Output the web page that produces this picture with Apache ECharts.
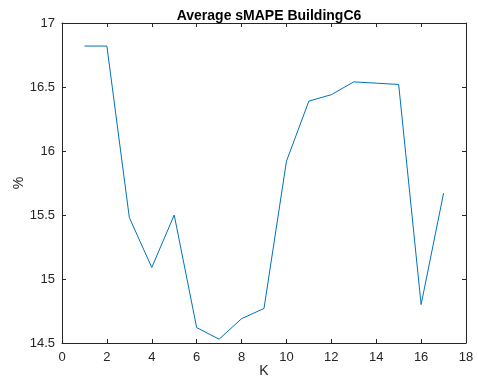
<!DOCTYPE html>
<html>
<head>
<meta charset="utf-8">
<script src="https://cdn.jsdelivr.net/npm/echarts@6/dist/echarts.min.js"></script>
<style>html,body{margin:0;padding:0;background:#fff}#c{width:478px;height:383px}</style>
</head>
<body>
<div id="c"></div>
<script>
var kValues = [1,2,3,4,5,6,7,8,9,10,11,12,13,14,15,16,17];
var smape = [16.82,16.82,15.48,15.09,15.50,14.62,14.53,14.69,14.77,15.92,16.39,16.44,16.54,16.53,16.52,14.80,15.67];
var xTicks = [0,2,4,6,8,10,12,14,16,18];
var yTicks = [14.5,15,15.5,16,16.5,17];

var font = 'Liberation Sans, Arial, Helvetica, sans-serif';
var axisCol = '#262626';
var chart = echarts.init(document.getElementById('c'), null, {renderer:'canvas'});
var pts = kValues.map(function(k,i){return [k, smape[i]];});
function fmtY(v){ return String(Math.round(v*10)/10); }
var baseX = {
  type:'value', min:xTicks[0], max:xTicks[xTicks.length-1], interval:2,
  axisLine:{show:true, onZero:false, lineStyle:{color:axisCol, width:1}},
  axisTick:{show:true, inside:true, length:4, lineStyle:{color:axisCol}},
  splitLine:{show:false}
};
var baseY = {
  type:'value', min:yTicks[0], max:yTicks[yTicks.length-1], interval:0.5,
  axisLine:{show:true, onZero:false, lineStyle:{color:axisCol, width:1}},
  axisTick:{show:true, inside:true, length:4, lineStyle:{color:axisCol}},
  splitLine:{show:false}
};
chart.setOption({
  animation:false,
  backgroundColor:'#fff',
  title:{text:'Average sMAPE BuildingC6', left:264, top:4, textAlign:'center',
    textStyle:{fontFamily:font, fontSize:14, fontWeight:'bold', color:'#000'}},
  grid:{left:62, right:12, top:23, bottom:40, containLabel:false, outerBoundsMode:'none'},
  xAxis:[
    Object.assign({}, baseX, {position:'bottom', name:'K', nameLocation:'middle', nameGap:21, nameMoveOverlap:false,
      nameTextStyle:{fontFamily:font, fontSize:14, color:axisCol},
      axisLabel:{show:true, fontFamily:font, fontSize:13, color:axisCol, margin:8}}),
    Object.assign({}, baseX, {position:'top', axisLabel:{show:false}})
  ],
  yAxis:[
    Object.assign({}, baseY, {position:'left', name:'%', nameLocation:'middle', nameGap:36, nameMoveOverlap:false,
      nameTextStyle:{fontFamily:font, fontSize:14, color:axisCol},
      axisLabel:{show:true, fontFamily:font, fontSize:13, color:axisCol, margin:7, formatter:fmtY}}),
    Object.assign({}, baseY, {position:'right', axisLabel:{show:false}})
  ],
  series:[{
    type:'line', data:pts, xAxisIndex:0, yAxisIndex:0,
    showSymbol:false, symbol:'none',
    lineStyle:{color:'#0072BD', width:1}
  }]
});
</script>
</body>
</html>
